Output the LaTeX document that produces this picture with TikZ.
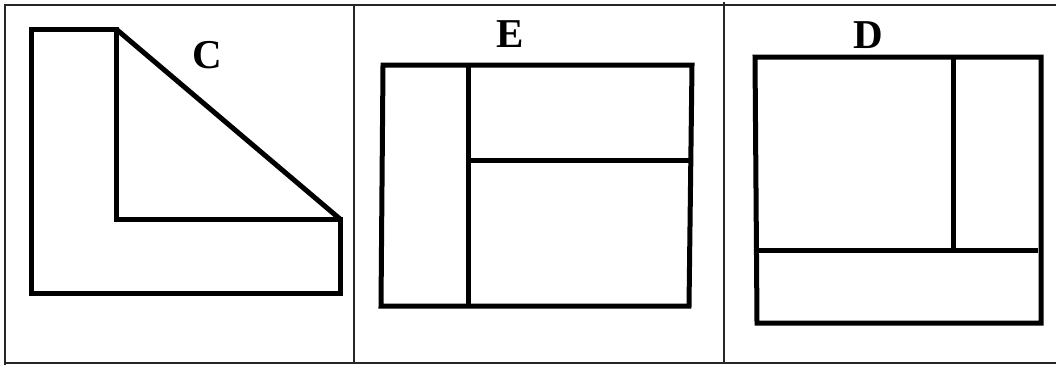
\documentclass[tikz,border=0pt]{standalone}
\usepackage{fontspec}
\setmainfont{Liberation Serif}

\begin{document}
\begin{tikzpicture}[
  x=1pt, y=-1pt,
  grid/.style={line width=1.8pt, black!85},
  part/.style={line width=5pt, line join=miter},
  letter/.style={font=\fontsize{41}{41}\selectfont\bfseries, inner sep=0pt}
]
\useasboundingbox (0,0) rectangle (1056,365);

% Table
\draw[grid] (1056,5) -- (5,5) -- (5,365);
\draw[grid] (5,363) -- (1056,363);
\draw[grid] (354,5) -- (354,363);
\draw[grid] (724,2) -- (724,363);

% Figure C
\draw[part] (116,29) -- (31,29) -- (31,293) -- (340,293) -- (340,219) -- (116,219) -- cycle;
\draw[part] (116,29) -- (340,219);
\node[letter] (labelC) at (207,55) {C};

% Figure E
\draw[part] (383,65) -- (692,65) -- (689,306) -- (381,306) -- cycle;
\draw[part] (468,65) -- (468,306);
\draw[part] (468,160) -- (690,160);
\node[letter] (labelE) at (510,34) {E};

% Figure D
\draw[part] (755,57) -- (1041,57) -- (1041,323) -- (757,323) -- cycle;
\draw[part] (953,57) -- (953,250);
\draw[part] (756,250) -- (1038,250);
\node[letter] (labelD) at (868,35) {D};

\end{tikzpicture}
\end{document}
